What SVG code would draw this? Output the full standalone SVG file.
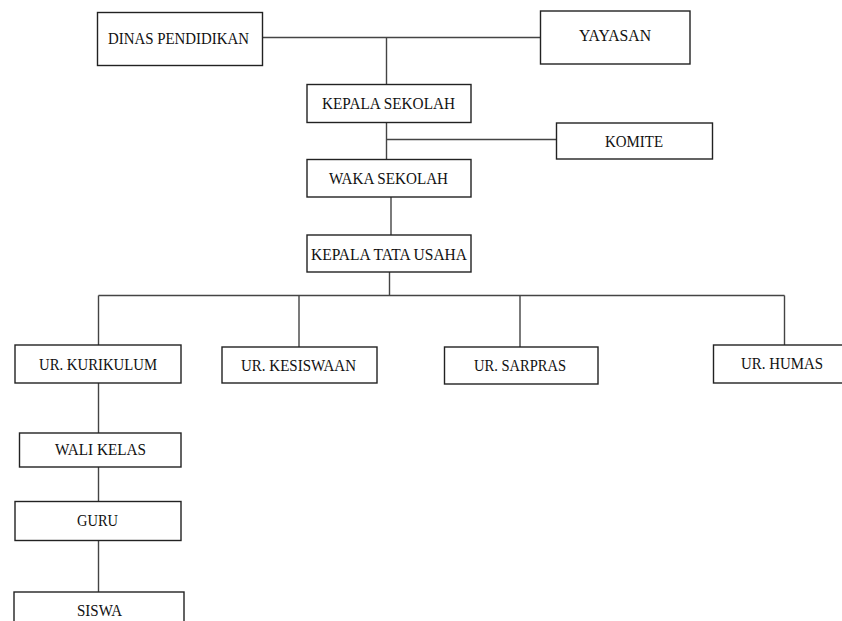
<svg xmlns="http://www.w3.org/2000/svg" width="842" height="621" viewBox="0 0 842 621">
<style>
.box{fill:#fff;stroke:#222;stroke-width:1.4}
text{font-family:'Liberation Serif','Times New Roman','DejaVu Serif',serif;font-size:17px;fill:#111}
.c{fill:none;stroke:#444;stroke-width:1.4}
</style>
<rect width="842" height="621" fill="#fff"/>
<g id="connectors">
<path class="c" d="M262.5 37.5H540.5M386.5 37.5V84.5"/>
<path class="c" d="M386.5 122.5V159.5M386.5 139.5H556.5"/>
<path class="c" d="M391 197V235"/>
<path class="c" d="M389.5 272V295.5M98.5 295.5H784.5M98.5 295.5V345M299 295.5V347M520 295.5V347M784.5 295.5V345"/>
<path class="c" d="M98.5 383V433M98.5 467V501.5M98.5 540.5V592"/>
</g>
<g id="dinas"><rect class="box" x="97.5" y="12.5" width="165" height="53"/><text x="108" y="44" textLength="141" lengthAdjust="spacingAndGlyphs">DINAS PENDIDIKAN</text></g>
<g id="yayasan"><rect class="box" x="540.5" y="11" width="149.5" height="53"/><text x="579" y="41" textLength="72" lengthAdjust="spacingAndGlyphs">YAYASAN</text></g>
<g id="kepala-sekolah"><rect class="box" x="307" y="84.5" width="164" height="38"/><text x="322" y="109" textLength="133" lengthAdjust="spacingAndGlyphs">KEPALA SEKOLAH</text></g>
<g id="komite"><rect class="box" x="556.5" y="123" width="156" height="36"/><text x="605" y="146.5" textLength="58" lengthAdjust="spacingAndGlyphs">KOMITE</text></g>
<g id="waka-sekolah"><rect class="box" x="307" y="159.5" width="164" height="37.5"/><text x="329" y="184" textLength="119" lengthAdjust="spacingAndGlyphs">WAKA SEKOLAH</text></g>
<g id="kepala-tu"><rect class="box" x="307" y="235" width="164" height="37"/><text x="311" y="260" textLength="156" lengthAdjust="spacingAndGlyphs">KEPALA TATA USAHA</text></g>
<g id="kurikulum"><rect class="box" x="15" y="345" width="166" height="38"/><text x="39" y="370" textLength="118" lengthAdjust="spacingAndGlyphs">UR. KURIKULUM</text></g>
<g id="kesiswaan"><rect class="box" x="222" y="347" width="155" height="36"/><text x="241" y="371" textLength="115" lengthAdjust="spacingAndGlyphs">UR. KESISWAAN</text></g>
<g id="sarpras"><rect class="box" x="444.5" y="347" width="153.5" height="37"/><text x="474" y="371" textLength="92" lengthAdjust="spacingAndGlyphs">UR. SARPRAS</text></g>
<g id="humas"><rect class="box" x="713.5" y="345" width="140" height="38"/><text x="741" y="369" textLength="82" lengthAdjust="spacingAndGlyphs">UR. HUMAS</text></g>
<g id="wali-kelas"><rect class="box" x="19.5" y="433" width="161.5" height="34"/><text x="55" y="455" textLength="91" lengthAdjust="spacingAndGlyphs">WALI KELAS</text></g>
<g id="guru"><rect class="box" x="15" y="501.5" width="166" height="39"/><text x="77" y="526" textLength="41" lengthAdjust="spacingAndGlyphs">GURU</text></g>
<g id="siswa"><rect class="box" x="14" y="592" width="170" height="40"/><text x="77" y="616" textLength="45" lengthAdjust="spacingAndGlyphs">SISWA</text></g>
</svg>
